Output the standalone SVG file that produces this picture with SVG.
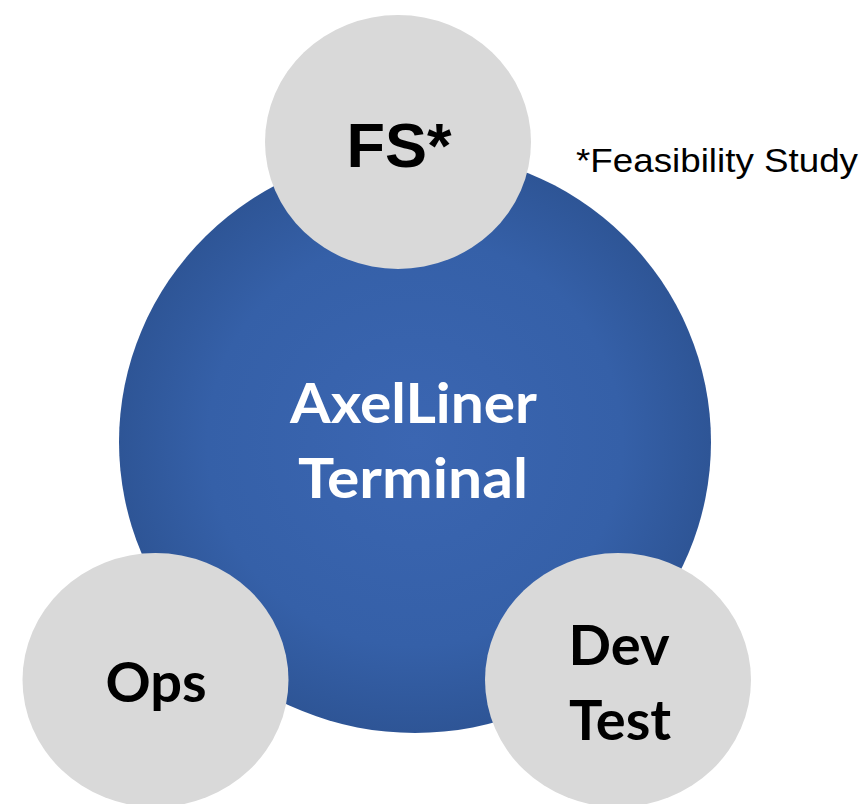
<svg xmlns="http://www.w3.org/2000/svg" width="866" height="804" viewBox="0 0 866 804">
<defs>
<radialGradient id="blue" cx="50%" cy="50%" r="50%">
<stop offset="0" stop-color="#3b66b2"/>
<stop offset="0.7" stop-color="#3560a8"/>
<stop offset="1" stop-color="#2e5596"/>
</radialGradient>
<style>
.sat{fill:#d9d9d9}
.lbl{font-family:Lato,"Open Sans",sans-serif;font-weight:bold;fill:#000;text-anchor:middle}
.hub{font-family:Lato,"Open Sans",sans-serif;font-weight:bold;fill:#fff;text-anchor:middle;font-size:56px}
</style>
</defs>
<g id="hub">
<ellipse cx="415" cy="442" rx="296" ry="291" fill="url(#blue)"/>
<text class="hub" x="413.5" y="423" textLength="247" lengthAdjust="spacingAndGlyphs">AxelLiner</text>
<text class="hub" x="413" y="498" textLength="230" lengthAdjust="spacingAndGlyphs">Terminal</text>
</g>
<g id="connectors"></g>
<g id="fs">
<ellipse class="sat" cx="398" cy="142" rx="133" ry="127"/>
<text x="399" y="167" font-family="'Liberation Sans',Arial,sans-serif" font-weight="bold" font-size="63" text-anchor="middle" fill="#000">FS*</text>
</g>
<g id="ops">
<ellipse class="sat" cx="155.5" cy="680" rx="133" ry="127"/>
<text class="lbl" x="156" y="702" font-size="56">Ops</text>
</g>
<g id="devtest">
<ellipse class="sat" cx="618" cy="680" rx="133" ry="127"/>
<text class="lbl" x="619" y="665" font-size="56">Dev</text>
<text class="lbl" x="620" y="740" font-size="56">Test</text>
</g>
<g id="note">
<text x="576" y="172" font-family="'Liberation Sans',Arial,sans-serif" font-size="34" fill="#000" textLength="282" lengthAdjust="spacingAndGlyphs">*Feasibility Study</text>
</g>
</svg>
